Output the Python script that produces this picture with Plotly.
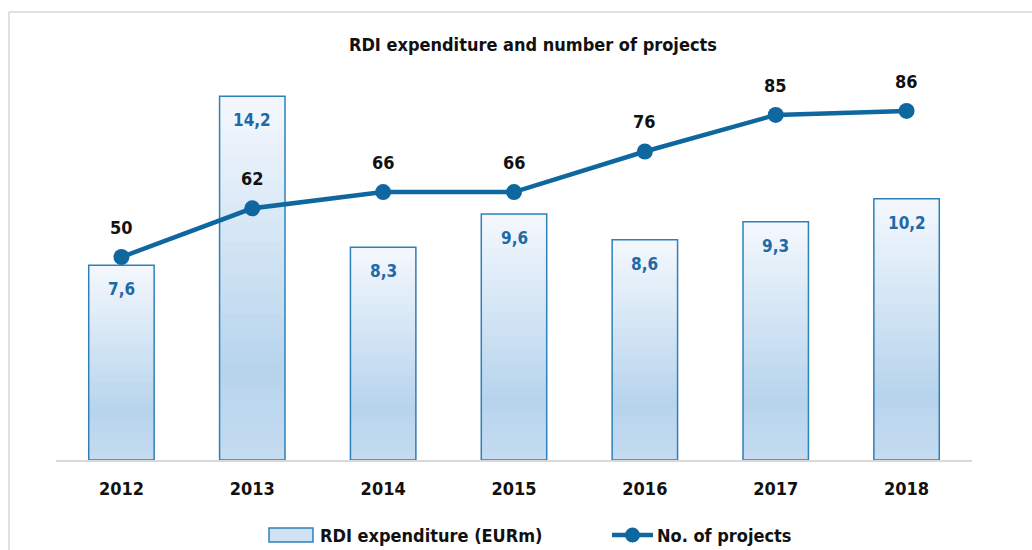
import plotly.graph_objects as go

years = ["2012", "2013", "2014", "2015", "2016", "2017", "2018"]
expenditure = [7.6, 14.2, 8.3, 9.6, 8.6, 9.3, 10.2]
projects = [50, 62, 66, 66, 76, 85, 86]
bar_name = "RDI expenditure (EURm)"
line_name = "No. of projects"

xpos = list(range(len(years)))

FONT = "DejaVu Sans Condensed, Roboto, sans-serif"
LINE_C = "#0f67a0"
BORDER_C = "#2f80b8"
LABEL_BLUE = "#1f6aa5"

# gradient stops (fraction from bottom, rgb)
stops = [(0.0, (197, 220, 240)), (0.25, (183, 212, 237)), (1.0, (244, 248, 253))]

def grad(f):
    for (f0, c0), (f1, c1) in zip(stops[:-1], stops[1:]):
        if f0 <= f <= f1:
            t = (f - f0) / (f1 - f0)
            return "rgb(%d,%d,%d)" % tuple(round(a + (b - a) * t) for a, b in zip(c0, c1))
    return "rgb(%d,%d,%d)" % stops[-1][1]

fig = go.Figure()

N = 30
for k in range(N):
    ftop = 1 - k / N
    fmid = 1 - (k + 0.5) / N
    fig.add_trace(go.Bar(
        x=xpos, y=[v * ftop for v in expenditure], width=0.496,
        marker=dict(color=grad(fmid), line=dict(width=0)),
        showlegend=False, hoverinfo="skip",
    ))

fig.add_trace(go.Bar(
    x=xpos, y=expenditure, width=0.5, name=bar_name,
    marker=dict(color="rgba(0,0,0,0)", line=dict(color=BORDER_C, width=1.5)),
    showlegend=False,
))

fig.add_trace(go.Scatter(
    x=xpos, y=projects, name=line_name, yaxis="y2",
    mode="lines+markers", line=dict(color=LINE_C, width=4.5),
    marker=dict(color=LINE_C, size=16), showlegend=False,
))

annotations = []
for i, v in zip(xpos, expenditure):
    annotations.append(dict(
        x=i, y=v, xref="x", yref="y", text=f"{v:.1f}".replace(".", ","),
        showarrow=False, yanchor="top", yshift=-12,
        font=dict(family=FONT, size=17, color=LABEL_BLUE, weight="bold"),
    ))
for i, p in zip(xpos, projects):
    annotations.append(dict(
        x=i, y=p, xref="x", yref="y2", text=str(p),
        showarrow=False, yanchor="bottom", yshift=17,
        font=dict(family=FONT, size=18, color="#111111", weight="bold"),
    ))

L, R, T, B = 56, 60, 50, 90
pw, ph = 1032 - L - R, 550 - T - B

def px(xp):
    return (xp - L) / pw

def py(yp):
    return (550 - B - yp) / ph

# manual legend
LEG_Y = 535
annotations.append(dict(xref="paper", yref="paper", x=px(318), y=py(LEG_Y), xanchor="left",
                        yanchor="middle", text=bar_name, showarrow=False,
                        font=dict(family=FONT, size=18, color="#111111", weight="bold")))
annotations.append(dict(xref="paper", yref="paper", x=px(655), y=py(LEG_Y), xanchor="left",
                        yanchor="middle", text=line_name, showarrow=False,
                        font=dict(family=FONT, size=18, color="#111111", weight="bold")))

shapes = [
    dict(type="line", xref="paper", yref="paper", x0=px(9), x1=px(1040), y0=py(12), y1=py(12),
         line=dict(color="#d6d6d6", width=1.5)),
    dict(type="line", xref="paper", yref="paper", x0=px(9), x1=px(9), y0=py(12), y1=py(560),
         line=dict(color="#d6d6d6", width=1.5)),
    dict(type="rect", xref="paper", yref="paper", x0=px(269), x1=px(313), y0=py(LEG_Y - 7),
         y1=py(LEG_Y + 7), fillcolor="#cfe2f3", line=dict(color=BORDER_C, width=1.5)),
    dict(type="line", xref="paper", yref="paper", x0=px(612), x1=px(653), y0=py(LEG_Y),
         y1=py(LEG_Y), line=dict(color=LINE_C, width=4.5)),
    dict(type="circle", xref="paper", yref="paper", x0=px(625), x1=px(640), y0=py(LEG_Y - 7.5),
         y1=py(LEG_Y + 7.5), fillcolor=LINE_C, line=dict(color=LINE_C, width=0)),
]

fig.update_layout(
    width=1032, height=550,
    margin=dict(l=L, r=R, t=T, b=B, autoexpand=False),
    paper_bgcolor="white", plot_bgcolor="white",
    barmode="overlay",
    title=dict(text="RDI expenditure and number of projects", x=px(529), xanchor="center",
               y=1 - 45 / 550, yanchor="middle",
               font=dict(family=FONT, size=18, color="#111111", weight="bold")),
    xaxis=dict(range=[-0.5, len(years) - 0.5], tickmode="array", tickvals=xpos, ticktext=years,
               showgrid=False, zeroline=False, showline=True, linecolor="#d9d9d9", linewidth=1.5,
               ticks="outside", ticklen=12, tickcolor="rgba(0,0,0,0)",
               tickfont=dict(family=FONT, size=18, color="#111111", weight="bold")),
    yaxis=dict(range=[0, 16], visible=False, showgrid=False),
    yaxis2=dict(range=[0, 101], overlaying="y", side="right", visible=False, showgrid=False),
    annotations=annotations,
    shapes=shapes,
    showlegend=False,
)

fig.write_html("out.html", config={"displayModeBar": False},
               post_script="document.body.style.margin='0';")
